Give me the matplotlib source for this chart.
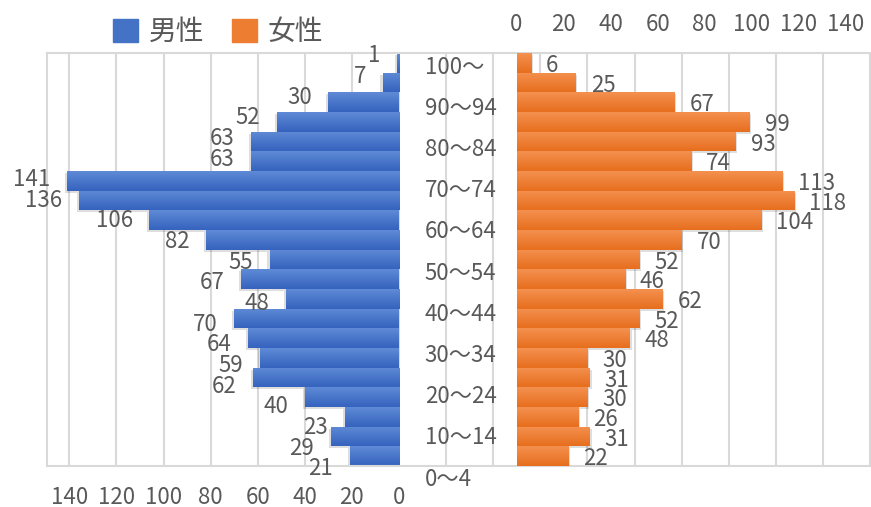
import matplotlib.pyplot as plt
import matplotlib.patheffects as pe
import matplotlib.transforms as mtransforms
from matplotlib.patches import Patch
from matplotlib.colors import LinearSegmentedColormap
import numpy as np

plt.rcParams['font.family'] = ['Noto Sans CJK JP', 'DejaVu Sans']

# age groups, bottom to top
ages = ['0～4', '5～9', '10～14', '15～19', '20～24', '25～29', '30～34',
        '35～39', '40～44', '45～49', '50～54', '55～59', '60～64', '65～69',
        '70～74', '75～79', '80～84', '85～89', '90～94', '95～99', '100～']
male = [21, 29, 23, 40, 62, 59, 64, 70, 48, 67, 55, 82, 106, 136, 141,
        63, 63, 52, 30, 7, 1]
female = [22, 31, 26, 30, 31, 30, 48, 52, 62, 46, 52, 70, 104, 118, 113,
          74, 93, 99, 67, 25, 6]
axis_ticks = [0, 20, 40, 60, 80, 100, 120, 140]

txt = '#595959'
grid_c = '#d9d9d9'
blue_top, blue_bot = '#5f8ad6', '#3563be'
orange_top, orange_bot = '#f4904f', '#e76f1e'

fig = plt.figure(figsize=(8.71, 5.07), dpi=100)
ax1 = fig.add_axes([47/871, 1 - 466/507, 824/871, 413/507])
ax2 = ax1.twiny()


def draw_bars(ax, vals, c_top, c_bot, shadow_dx):
    cmap = LinearSegmentedColormap.from_list('g', [c_top, c_bot])
    grad = np.linspace(0, 1, 32).reshape(-1, 1)
    for i, v in enumerate(vals):
        b = ax.barh(i, v, height=1.0, color=c_bot, zorder=2,
                    path_effects=[pe.SimplePatchShadow(offset=(shadow_dx, -1.5), shadow_rgbFace='#000000', alpha=0.13),
                                  pe.Normal()])[0]
        im = ax.imshow(grad, cmap=cmap, extent=(0, v, i - 0.5, i + 0.5),
                       aspect='auto', zorder=2.5, interpolation='bilinear')
        im.set_clip_path(b)


draw_bars(ax1, male, blue_top, blue_bot, -1.5)
draw_bars(ax2, female, orange_top, orange_bot, 1.5)

# male axis: reversed, zero near the middle
ax1.set_xlim(149.5, -200.4)
ax1.set_ylim(-0.5, 20.5)
grid_ticks = list(range(-200, 141, 20))
ax1.set_xticks(grid_ticks)
ax1.set_xticklabels([str(t) if t in axis_ticks else '' for t in grid_ticks])
ax1.set_yticks([])
ax1.grid(axis='x', color=grid_c, lw=1.5)
ax1.set_axisbelow(True)
ax1.tick_params(axis='x', length=0, pad=14.5, labelsize=16, labelcolor=txt)
for s in ['top', 'left', 'bottom']:
    ax1.spines[s].set_color(grid_c)
    ax1.spines[s].set_linewidth(1.5)
ax1.spines['right'].set_visible(False)

# female axis on top
ax2.set_xlim(-199.6, 150.7)
ax2.set_ylim(-0.5, 20.5)
ax2.set_xticks(axis_ticks)
ax2.tick_params(axis='x', length=0, pad=12.5, labelsize=16, labelcolor=txt)
for s in ax2.spines.values():
    s.set_visible(False)

# data labels
tr1 = mtransforms.blended_transform_factory(ax1.transData, ax1.transAxes)
for i, v in enumerate(male):
    ax1.annotate(str(v), (v, i / 20), xycoords=tr1, xytext=(-12, -2),
                 textcoords='offset points', ha='right', va='center',
                 fontsize=16, color=txt, zorder=5)
for i, v in enumerate(female):
    ax2.annotate(str(v), (v, i), xytext=(11, -2), textcoords='offset points',
                 ha='left', va='center', fontsize=16, color=txt, zorder=5)

# age labels in the middle
tr2 = mtransforms.blended_transform_factory(ax2.transData, ax2.transAxes)
for lab, yf in zip(ages[::2], np.linspace(-0.032, 0.966, 11)):
    ax2.text(-39, yf, lab, transform=tr2, ha='left', va='center',
             fontsize=16, color=txt)

fig.legend(handles=[Patch(color='#4472c4'), Patch(color='#ed7d31')],
           labels=['男性', '女性'], loc='center',
           bbox_to_anchor=(218/871, 1 - 32/507), ncol=2, frameon=False,
           fontsize=20, handlelength=0.9, handleheight=0.9,
           handletextpad=0.4, columnspacing=1.0, labelcolor=txt)

fig.savefig('out.png', dpi=100)
